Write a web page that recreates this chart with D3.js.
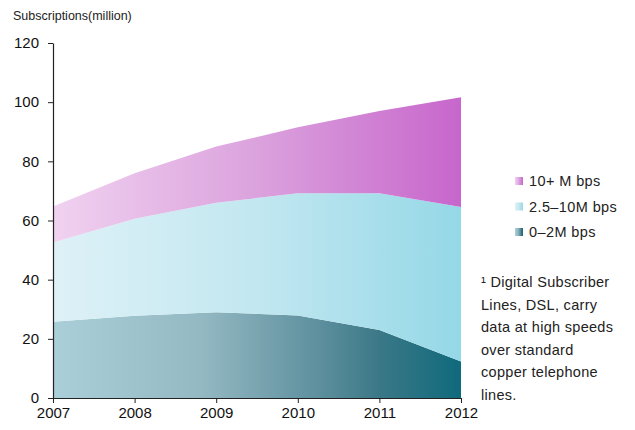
<!DOCTYPE html>
<html>
<head>
<meta charset="utf-8">
<script src="https://cdn.jsdelivr.net/npm/d3@7"></script>
<style>
  html, body { margin: 0; padding: 0; background: #fff; }
  svg { display: block; font-family: "Liberation Sans", Arial, sans-serif; }
</style>
</head>
<body>
<svg id="chart" width="635" height="430"></svg>
<script>
// DSL subscriptions by speed band, millions
const years = [2007, 2008, 2009, 2010, 2011, 2012];
const low = [25.8, 27.8, 29.0, 27.9, 23.0, 12.3];    // 0–2 Mbps
const mid = [26.8, 32.8, 37.0, 41.3, 46.2, 52.3];    // 2.5–10 Mbps
const high = [12.1, 15.4, 19.0, 22.3, 27.8, 37.1];   // 10+ Mbps
const yTicks = [0, 20, 40, 60, 80, 100, 120];
const seriesKeys = ["low", "mid", "high"];
const legendLabels = ["10+ M bps", "2.5–10M bps", "0–2M bps"];
const footnote = ["¹ Digital Subscriber", "Lines, DSL, carry", "data at high speeds", "over standard", "copper telephone", "lines."];

const rows = years.map((yr, i) => ({ year: yr, low: low[i], mid: mid[i], high: high[i] }));

const svg = d3.select("#chart");
const margin = { left: 53, top: 43 };
const plotW = 408, plotH = 355;

const x = d3.scaleLinear().domain([2007, 2012]).range([margin.left, margin.left + plotW]);
const y = d3.scaleLinear().domain([0, 120]).range([margin.top + plotH, margin.top]);

// horizontal gradients per band: [offset, colour]
const grads = {
  low: [[0, "#abcfd8"], [0.36, "#94b9c3"], [0.65, "#5e909e"], [0.8, "#3b7887"], [1, "#0f6a7c"]],
  mid: [[0, "#def1f7"], [0.5, "#c2e7f0"], [1, "#95d8e7"]],
  high: [[0, "#f0d2f0"], [0.5, "#dba2dd"], [1, "#c766cc"]]
};
const defs = svg.append("defs");
Object.entries(grads).forEach(([k, stops]) => {
  const g = defs.append("linearGradient").attr("id", "g-" + k)
    .attr("x1", "0%").attr("x2", "100%").attr("y1", "0%").attr("y2", "0%");
  stops.forEach(([o, c]) => g.append("stop").attr("offset", o).attr("stop-color", c));
});

const stack = d3.stack().keys(seriesKeys);
const layers = stack(rows);

const area = d3.area()
  .x(d => x(d.data.year))
  .y0(d => y(d[0]))
  .y1(d => y(d[1]));

svg.append("g").selectAll("path")
  .data(layers)
  .join("path")
  .attr("d", area)
  .attr("fill", d => `url(#g-${d.key})`);

// axes
const yAxis = d3.axisLeft(y).tickValues(yTicks).tickSize(5).tickPadding(9).tickSizeOuter(0);
const gy = svg.append("g").attr("transform", `translate(${margin.left},0)`).call(yAxis);
const xAxis = d3.axisBottom(x).tickValues(years).tickFormat(d3.format("d")).tickSize(5).tickPadding(4).tickSizeOuter(0);
const gx = svg.append("g").attr("transform", `translate(0,${margin.top + plotH})`).call(xAxis);
[gy, gx].forEach(g => {
  g.select(".domain").attr("stroke", "#222").attr("stroke-width", 1.2);
  g.selectAll(".tick line").attr("stroke", "#222");
  g.selectAll(".tick text").attr("fill", "#111").style("font-size", "15px")
    .style("font-family", "'Liberation Sans', Arial, sans-serif");
});

// axis title
svg.append("text").attr("x", 13).attr("y", 20)
  .attr("fill", "#222").style("font-size", "12.5px")
  .text("Subscriptions(million)");

// legend
const legend = svg.append("g").attr("transform", "translate(515,176)");
["high", "mid", "low"].forEach((k, i) => {
  const row = legend.append("g").attr("transform", `translate(0,${i * 25.5})`);
  row.append("rect").attr("width", 8).attr("height", 8).attr("y", 1)
    .attr("fill", `url(#g-${k})`);
  row.append("text").attr("x", 14).attr("y", 10)
    .attr("fill", "#222").style("font-size", "14.5px")
    .style("letter-spacing", "0.4px").text(legendLabels[i]);
});

// footnote
const fn = svg.append("text").attr("x", 481).attr("y", 287)
  .attr("fill", "#222").style("font-size", "14.5px")
  .style("letter-spacing", "0.3px");
footnote.forEach((line, i) => {
  fn.append("tspan").attr("x", 481).attr("dy", i === 0 ? 0 : 22.6).text(line);
});
</script>
</body>
</html>
